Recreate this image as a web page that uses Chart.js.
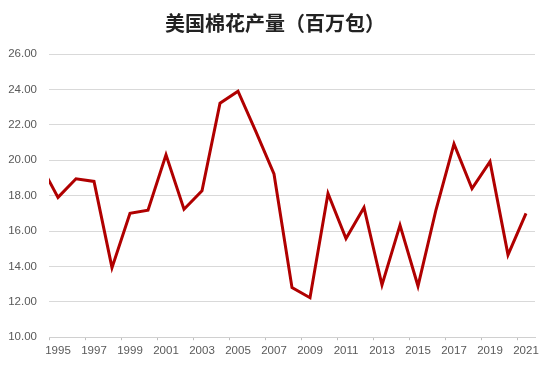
<!DOCTYPE html>
<html>
<head>
<meta charset="utf-8">
<script src="https://cdn.jsdelivr.net/npm/chart.js@4"></script>
<style>
  body { margin: 0; background: #fff; }
  #wrap { width: 550px; height: 368px; }
</style>
</head>
<body>
<div id="wrap"><canvas id="myChart"></canvas></div>
<script>
// 1994 is only there so the line runs in from the left edge, as in the original
var years = [1994, 1995, 1996, 1997, 1998, 1999, 2000, 2001, 2002, 2003, 2004, 2005, 2006, 2007,
    2008, 2009, 2010, 2011, 2012, 2013, 2014, 2015, 2016, 2017, 2018, 2019, 2020, 2021];
var production = [19.8, 17.9, 18.95, 18.8, 13.93, 17.0, 17.18, 20.3, 17.23, 18.27, 23.22, 23.9, 21.6, 19.22,
    12.8, 12.23, 18.12, 15.57, 17.33, 12.95, 16.33, 12.89, 17.2, 20.92, 18.4, 19.92, 14.65, 17.0];
var tickYears = [];
for (var y = 1995; y <= 2021; y++) tickYears.push(y);

var points = [];
for (var i = 0; i < years.length; i++) {
    points.push({x: years[i], y: production[i]});
}

// center the title on the whole canvas, not on the padded box
var centerTitle = {
    id: 'centerTitle',
    afterLayout: function (chart) {
        if (chart.titleBlock) {
            chart.titleBlock.left = 0;
            chart.titleBlock.right = chart.width;
        }
    }
};

var ctx = document.getElementById("myChart");
var chart = new Chart(ctx, {
    type: 'line',
    data: {
        datasets: [{
            label: '美国棉花产量',
            data: points,
            borderColor: '#b00000',
            borderWidth: 3,
            pointRadius: 0,
            tension: 0,
            clip: 0
        }]
    },
    plugins: [centerTitle],
    options: {
        responsive: true,
        maintainAspectRatio: false,
        animation: false,
        layout: {padding: {left: 0, right: 15, top: 0, bottom: 6}},
        plugins: {
            legend: {display: false},
            tooltip: {enabled: false},
            title: {
                display: true,
                text: '美国棉花产量（百万包）',
                color: '#222',
                font: {family: '"Noto Sans CJK SC", sans-serif', size: 20, weight: 'bold'},
                padding: {top: 11, bottom: 19}
            }
        },
        scales: {
            x: {
                type: 'linear',
                min: 1994.5,
                max: 2021.5,
                afterBuildTicks: function (scale) {
                    scale.ticks = tickYears.map(function (v) { return {value: v}; });
                },
                ticks: {
                    autoSkip: false,
                    maxRotation: 0,
                    padding: 4,
                    color: '#595959',
                    font: {family: '"Liberation Sans", sans-serif', size: 11.5},
                    callback: function (v) { return v % 2 === 1 ? String(v) : ''; }
                },
                grid: {
                    offset: true,
                    drawOnChartArea: false,
                    tickLength: 3,
                    tickColor: function (c) {
                        return (c.index !== undefined && c.index % 2 === 0) ? '#bfbfbf' : 'rgba(0,0,0,0)';
                    }
                },
                border: {display: true, color: '#d0d0d0', width: 1}
            },
            y: {
                min: 10,
                max: 26,
                afterFit: function (scale) { scale.width = 49; },
                ticks: {
                    stepSize: 2,
                    padding: 12,
                    color: '#595959',
                    font: {family: '"Liberation Sans", sans-serif', size: 11.5},
                    callback: function (v) { return v.toFixed(2); }
                },
                grid: {color: '#d9d9d9', lineWidth: 1, drawTicks: false},
                border: {display: false}
            }
        }
    }
});
</script>
</body>
</html>
